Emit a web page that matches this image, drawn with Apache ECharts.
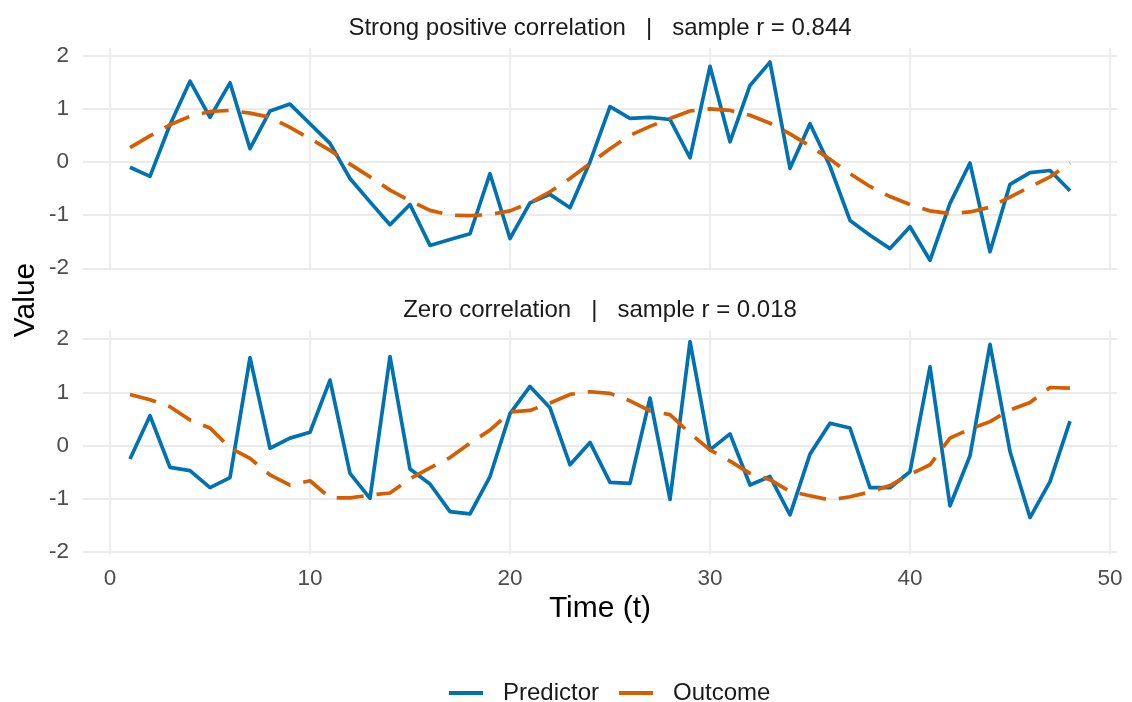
<!DOCTYPE html>
<html>
<head>
<meta charset="utf-8">
<script src="https://cdn.jsdelivr.net/npm/echarts@6/dist/echarts.min.js"></script>
<style>
html,body{margin:0;padding:0;background:#fff;}
#c{width:1132px;height:702px;}
</style>
</head>
<body>
<div id="c"></div>
<script>
// ---- data ----
var timeT = [1,2,3,4,5,6,7,8,9,10,11,12,13,14,15,16,17,18,19,20,21,22,23,24,25,26,27,28,29,30,31,32,33,34,35,36,37,38,39,40,41,42,43,44,45,46,47,48];

var strongPredictor = [-0.10,-0.27,0.70,1.52,0.84,1.49,0.25,0.96,1.09,0.72,0.35,-0.31,-0.75,-1.18,-0.80,-1.57,-1.46,-1.35,-0.22,-1.44,
  -0.77,-0.61,-0.86,0.00,1.04,0.82,0.84,0.80,0.08,1.80,0.38,1.44,1.88,-0.12,0.72,-0.08,-1.10,-1.38,-1.63,-1.22,
  -1.85,-0.78,-0.02,-1.69,-0.42,-0.20,-0.16,-0.54];
var strongOutcome = [0.27,0.49,0.70,0.86,0.95,0.97,0.92,0.84,0.65,0.44,0.22,-0.04,-0.28,-0.53,-0.73,-0.91,-1.00,-1.01,-0.99,-0.92,
  -0.77,-0.56,-0.31,-0.03,0.25,0.50,0.67,0.82,0.96,1.00,0.97,0.88,0.73,0.53,0.30,0.05,-0.22,-0.46,-0.65,-0.80,
  -0.92,-0.97,-0.94,-0.85,-0.66,-0.47,-0.28,-0.02];

var zeroPredictor = [-0.25,0.56,-0.41,-0.47,-0.79,-0.60,1.65,-0.05,0.14,0.25,1.23,-0.52,-0.99,1.67,-0.44,-0.72,-1.24,-1.28,-0.58,0.60,
  1.11,0.71,-0.36,0.06,-0.69,-0.71,0.89,-1.01,1.95,-0.08,0.22,-0.74,-0.58,-1.30,-0.16,0.42,0.33,-0.79,-0.79,-0.49,
  1.48,-1.13,-0.19,1.90,-0.11,-1.35,-0.675,0.46];
var zeroOutcome = [0.96,0.86,0.73,0.48,0.33,-0.04,-0.24,-0.55,-0.74,-0.66,-0.98,-0.98,-0.93,-0.89,-0.62,-0.42,-0.225,0.045,0.29,0.63,
  0.66,0.80,0.96,1.01,0.98,0.84,0.65,0.58,0.23,-0.08,-0.29,-0.52,-0.64,-0.86,-0.94,-1.02,-0.96,-0.87,-0.75,-0.54,
  -0.36,0.14,0.31,0.45,0.67,0.81,1.09,1.08];

var panelTitles = ["Strong positive correlation   |   sample r = 0.844", "Zero correlation   |   sample r = 0.018"];
var seriesNames = ["Predictor", "Outcome"];
var xTitle = "Time (t)";
var yTitle = "Value";

// ---- chart ----
var FONT = "Liberation Sans, Arial, sans-serif";
var BLUE = "#0072B2", ORANGE = "#D55E00";
function pairs(xs, ys){ return xs.map(function(x,i){ return [x, ys[i]]; }); }
function intOnly(v){ return (Math.abs(v - Math.round(v)) < 1e-9) ? String(Math.round(v)) : ''; }

var gridLine = {show:true, showMinLine:false, showMaxLine:false, lineStyle:{color:"#EBEBEB", width:1.8}};

function xAxis(idx, showLabels){
  var a = {type:'value', gridIndex:idx, min:-1.35, max:50.35, splitNumber:5,
    axisLine:{show:false}, axisTick:{show:false}, splitLine:gridLine,
    axisLabel:{show:showLabels, showMinLabel:false, showMaxLabel:false, formatter:intOnly,
      color:"#4D4D4D", fontFamily:FONT, fontSize:22.5, margin:13}};
  if (showLabels) {
    a.name = xTitle; a.nameLocation = 'middle'; a.nameGap = 39;
    a.nameTextStyle = {color:"#000", fontFamily:FONT, fontSize:30};
  }
  return a;
}
function yAxis(idx){
  return {type:'value', gridIndex:idx, min:-2.04, max:2.145, splitNumber:5,
    axisLine:{show:false}, axisTick:{show:false}, splitLine:gridLine,
    axisLabel:{showMinLabel:false, showMaxLabel:false, formatter:intOnly,
      color:"#4D4D4D", fontFamily:FONT, fontSize:22.5, margin:14}};
}
function lineSeries(name, idx, ys, color, dashed){
  return {type:'line', name:name, xAxisIndex:idx, yAxisIndex:idx, data:pairs(timeT, ys),
    showSymbol:false, symbol:'none', animation:false, silent:true,
    lineStyle:{color:color, width:3.7, type: dashed ? [27,13] : 'solid', cap:'butt', join:'round'},
    itemStyle:{color:color}};
}

var chart = echarts.init(document.getElementById('c'), null, {renderer:'canvas'});
chart.setOption({
  backgroundColor:'#fff',
  animation:false,
  grid:[
    {left:83, right:15, top:48, height:222.4},
    {left:83, right:15, top:331.3, height:223}
  ],
  xAxis:[xAxis(0,false), xAxis(1,true)],
  yAxis:[yAxis(0), yAxis(1)],
  legend:{
    left:444, top:676, itemGap:20, itemWidth:34, itemHeight:4,
    data:[{name:seriesNames[0], icon:'rect'}, {name:seriesNames[1], icon:'rect'}],
    textStyle:{color:"#1A1A1A", fontFamily:FONT, fontSize:24, padding:[0,0,0,15]}
  },
  graphic:[
    {type:'text', x:600, y:28, style:{text:panelTitles[0], fill:"#1A1A1A", font:"24px " + FONT, align:'center', verticalAlign:'middle'}},
    {type:'text', x:600, y:310, style:{text:panelTitles[1], fill:"#1A1A1A", font:"24px " + FONT, align:'center', verticalAlign:'middle'}},
    {type:'text', x:26, y:300, rotation:Math.PI/2, style:{text:yTitle, fill:"#000", font:"30px " + FONT, align:'center', verticalAlign:'middle'}}
  ],
  series:[
    lineSeries(seriesNames[0], 0, strongPredictor, BLUE, false),
    lineSeries(seriesNames[1], 0, strongOutcome, ORANGE, true),
    lineSeries(seriesNames[0], 1, zeroPredictor, BLUE, false),
    lineSeries(seriesNames[1], 1, zeroOutcome, ORANGE, true)
  ]
});
</script>
</body>
</html>
